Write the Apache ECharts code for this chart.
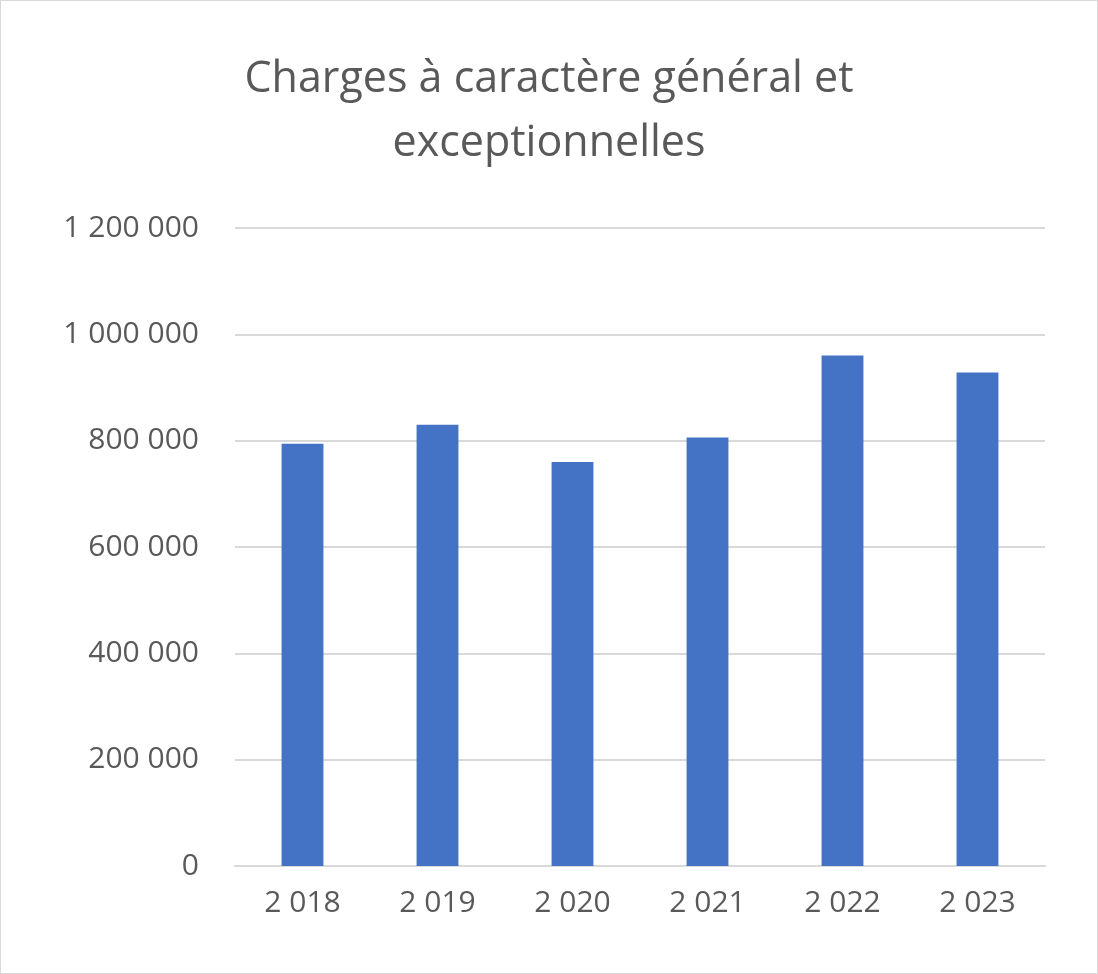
<!DOCTYPE html>
<html><head><meta charset="utf-8">
<script src="https://cdn.jsdelivr.net/npm/echarts@6/dist/echarts.min.js"></script>
<style>html,body{margin:0;padding:0;background:#fff}#c{width:1096px;height:972px;border:1px solid #d9d9d9}</style>
</head><body><div id="c"></div>
<script>
const categories = ['2 018','2 019','2 020','2 021','2 022','2 023'];
const values = [794000, 830000, 760000, 806000, 960000, 928000];
const titleText = 'Charges à caractère général et\nexceptionnelles';
const fmt = v => String(v).replace(/\B(?=(\d{3})+(?!\d))/g, ' ');
const chart = echarts.init(document.getElementById('c'));
chart.setOption({
  animation:false,
  title:{text:titleText,left:'center',top:42,textStyle:{fontFamily:'Open Sans',fontSize:43,fontWeight:'normal',color:'#595959',lineHeight:64}},
  grid:{left:234,right:52,top:227,bottom:107},
  xAxis:{type:'category',data:categories,axisTick:{show:false},axisLine:{lineStyle:{color:'#d9d9d9',width:2}},
    axisLabel:{fontFamily:'Open Sans',fontSize:30,color:'#595959',margin:22}},
  yAxis:{type:'value',min:0,max:1200000,interval:200000,axisLine:{show:false},axisTick:{show:false},
    splitLine:{lineStyle:{color:'#d9d9d9',width:2}},
    axisLabel:{fontFamily:'Open Sans',fontSize:30,color:'#595959',margin:36,formatter:fmt}},
  series:[{type:'bar',data:values,barWidth:'31%',itemStyle:{color:'#4472c4'}}]
});
</script></body></html>
